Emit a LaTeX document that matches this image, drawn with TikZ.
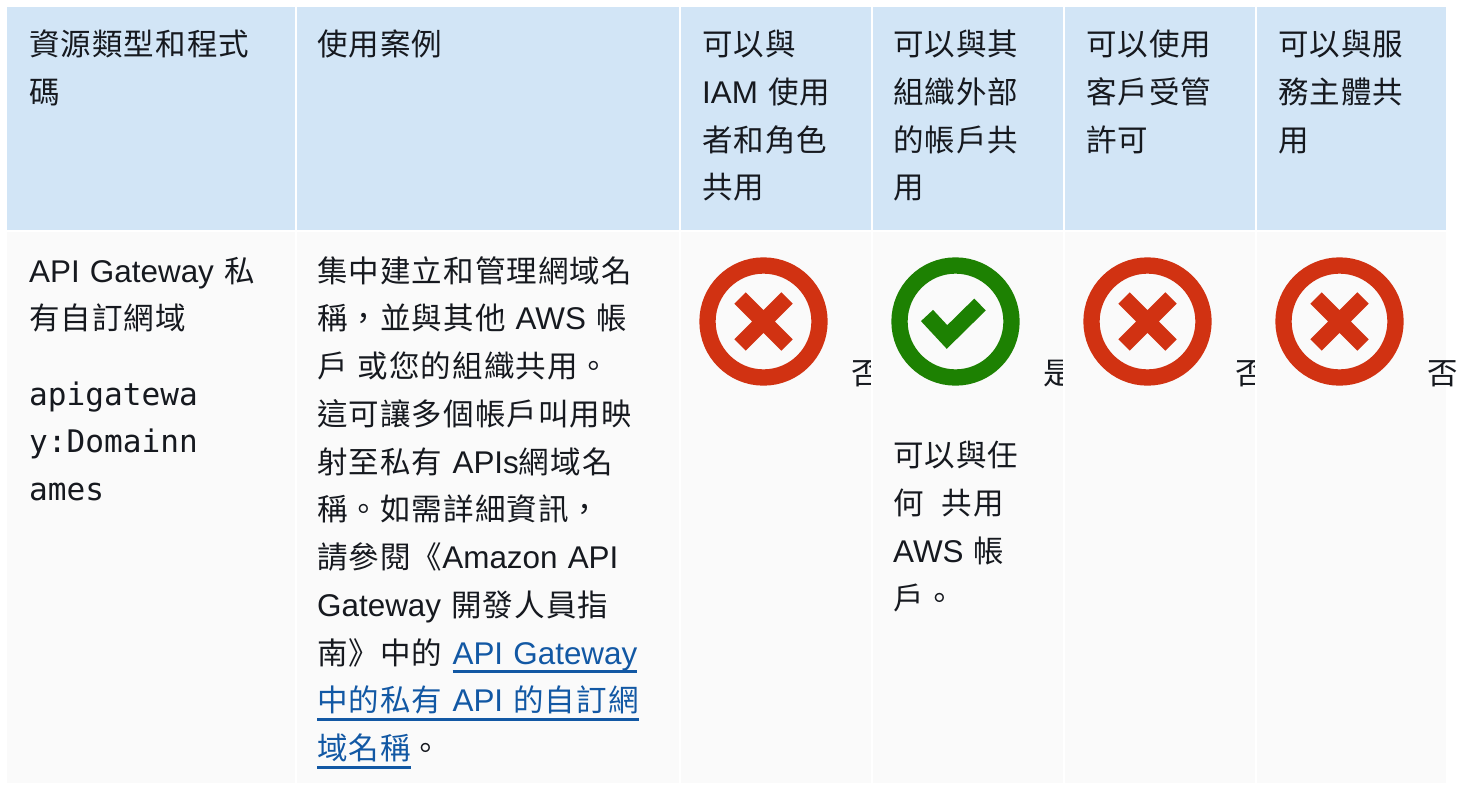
\documentclass[tikz,border=0pt]{standalone}
\usepackage{fontspec}
\setmainfont{Noto Sans CJK TC}[LetterSpace=3.5]
\newfontfamily\latinfont{Liberation Sans}[Scale=1.03]
\newfontfamily\codefont{DejaVu Sans Mono}[Scale=1.02]
\usetikzlibrary{positioning}

\definecolor{headbg}{RGB}{210,229,246}
\definecolor{bodybg}{RGB}{250,250,250}
\definecolor{ink}{RGB}{22,25,31}
\definecolor{nored}{RGB}{209,50,18}
\definecolor{yesgreen}{RGB}{29,129,2}
\definecolor{linkblue}{RGB}{18,88,164}

\newcommand\en[1]{{\latinfont #1}}
\newcommand\lnk[1]{\leavevmode{\color{linkblue}\setbox0\hbox{#1}\rlap{\rule[-9pt]{\wd0}{2.6pt}}\box0}}

\tikzset{
  headcell/.style={fill=headbg, draw=white, line width=2pt},
  bodycell/.style={fill=bodybg, draw=white, line width=2pt},
  celltext/.style={anchor=base west, align=left, text width=400pt, inner sep=0pt,
    font=\fontsize{30.5pt}{47.75pt}\selectfont, text=ink},
  nomark/.pic={
    \draw[nored, line width=16.3pt] (0,0) circle (56pt);
    \draw[nored, line width=16pt] (-23.5,-23.5) -- (23.5,23.5) (-23.5,23.5) -- (23.5,-23.5);
  },
  yesmark/.pic={
    \draw[yesgreen, line width=16.3pt] (0,0) circle (56pt);
    \draw[yesgreen, line width=16.5pt] (-28.5,-6) -- (-8.5,15.5) -- (24.5,-17);
  }
}

\begin{document}
\begin{tikzpicture}[x=1pt, y=-1pt]
  \useasboundingbox[fill=white] (0,0) rectangle (1471,785);

  % header row
  \filldraw[headcell] (6,6) rectangle (296,231);
  \filldraw[headcell] (296,6) rectangle (680,231);
  \filldraw[headcell] (680,6) rectangle (872,231);
  \filldraw[headcell] (872,6) rectangle (1064,231);
  \filldraw[headcell] (1064,6) rectangle (1256,231);
  \filldraw[headcell] (1256,6) rectangle (1447,231);
  \node[celltext] (h1) at (29,55.6) {資源類型和程式\\碼};
  \node[celltext] (h2) at (317,55.6) {使用案例};
  \node[celltext] (h3) at (702,55.6) {可以與\\\en{IAM} 使用\\者和角色\\共用};
  \node[celltext] (h4) at (893,55.6) {可以與其\\組織外部\\的帳戶共\\用};
  \node[celltext] (h5) at (1086,55.6) {可以使用\\客戶受管\\許可};
  \node[celltext] (h6) at (1278,55.6) {可以與服\\務主體共\\用};

  % body row, cell by cell
  \filldraw[bodycell] (6,231) rectangle (296,784);
  \node[celltext] (b1) at (29,282) {\en{API Gateway} 私\\有自訂網域\\[27.5pt]
    {\codefont apigatewa}\\{\codefont y:Domainn}\\{\codefont ames}};

  \filldraw[bodycell] (296,231) rectangle (680,784);
  \node[celltext] (b2) at (317,282) {集中建立和管理網域名\\稱，並與其他 \en{AWS} 帳\\戶 或您的組織共用。\\
    這可讓多個帳戶叫用映\\射至私有 \en{APIs}網域名\\稱。如需詳細資訊，\\
    請參閱《\en{Amazon API}\\\en{Gateway} 開發人員指\\南》中的 \lnk{\en{API Gateway}}\\
    \lnk{中的私有 \en{API} 的自訂網}\\\lnk{域名稱}。};

  \filldraw[bodycell] (680,231) rectangle (872,784);
  \pic at (763.5,321.5) {nomark};
  \node[celltext] (m3) at (851,384) {否};

  \filldraw[bodycell] (872,231) rectangle (1064,784);
  \pic at (955.5,321.5) {yesmark};
  \node[celltext] (m4) at (1043,384) {是};
  \node[celltext] (b4) at (893,466.6) {可以與任\\何\hspace{18pt}共用\\\en{AWS} 帳\\戶。};

  \filldraw[bodycell] (1064,231) rectangle (1256,784);
  \pic at (1147.5,321.5) {nomark};
  \node[celltext] (m5) at (1235,384) {否};

  \filldraw[bodycell] (1256,231) rectangle (1447,784);
  \pic at (1339.5,321.5) {nomark};
  \node[celltext] (m6) at (1427,384) {否};
\end{tikzpicture}
\end{document}
